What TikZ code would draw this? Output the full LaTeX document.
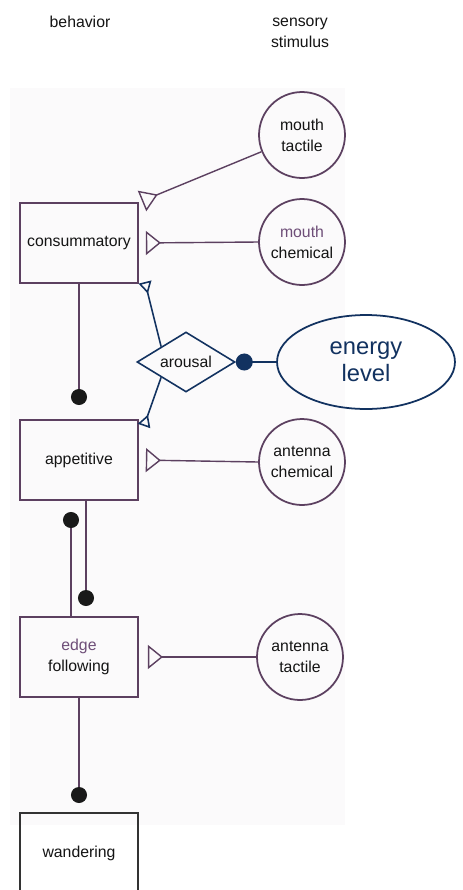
\documentclass[tikz,border=0pt]{standalone}
\usepackage{fontspec}
\setmainfont{Liberation Sans}
\usepackage{tikz}
\usetikzlibrary{arrows.meta, shapes.geometric}

\definecolor{inkline}{RGB}{92,64,96}
\definecolor{inktext}{RGB}{20,20,20}
\definecolor{inkpurple}{RGB}{110,78,120}
\definecolor{navy}{RGB}{18,50,96}
\definecolor{scan}{RGB}{251,250,251}

\newcommand{\lab}{\fontsize{9}{12}\selectfont}

\begin{document}
\begin{tikzpicture}[x=0.02cm, y=-0.02cm,
    behbox/.style={draw=inkline, line width=1pt, minimum width=2.36cm, minimum height=1.6cm,
      inner sep=0pt, align=center, text=inktext, font=\lab},
    stim/.style={circle, draw=inkline, line width=1pt, minimum size=1.72cm, inner sep=0pt,
      align=center, text=inktext, font=\lab},
    feed/.style={draw=inkline, line width=0.8pt, -{Triangle[open, reversed, length=0.3cm, width=0.48cm]}},
    inhib/.style={draw=inkline, line width=0.8pt, -{Circle[length=0.32cm, color=black!90]}},
    modl/.style={draw=navy, line width=0.9pt, -{Triangle[open, reversed, length=0.24cm, width=0.26cm]}}]

        % Frame of the page
        \clip (0,0) rectangle (463,890);
        \fill[white] (0,0) rectangle (463,890);
        \fill[scan] (10,88) rectangle (345,825);

        % Column headings
        \node[text=inktext, font=\lab] (hbeh) at (80,22) {behavior};
        \node[text=inktext, font=\lab, align=center] (hstim) at (300,33) {sensory\\stimulus};

        % Behaviors
        \node[behbox] (cons) at (79,243) {consummatory};
        \node[behbox] (app) at (79,460) {appetitive};
        \node[behbox] (edgef) at (79,657) {\textcolor{inkpurple}{edge}\\following};
        \node[behbox, draw=black!80] (wand) at (79,853) {wandering};

        % Sensory stimuli
        \node[stim] (mtact) at (302,135) {mouth\\tactile};
        \node[stim] (mchem) at (302,242) {\textcolor{inkpurple}{mouth}\\chemical};
        \node[stim] (achem) at (302,462) {antenna\\chemical};
        \node[stim] (atact) at (300,657) {antenna\\tactile};

        % Arousal and energy level
        \node[diamond, draw=navy, line width=0.9pt, aspect=1.6, minimum width=1.96cm,
          minimum height=1.2cm, inner sep=0pt, text=inktext, font=\lab] (arousal) at (186,362) {arousal};
        \node[ellipse, draw=navy, line width=1pt, minimum width=3.56cm, minimum height=1.88cm,
          inner sep=0pt, align=center, text=navy, font=\fontsize{13.5}{15.5}\selectfont] (energy) at (366,362) {energy\\level};

        % Free ends
        \coordinate (tc) at (142,201);
        \coordinate (ac) at (145,282);
        \coordinate (aa) at (144,426);
        \coordinate (d1) at (79,405);
        \coordinate (d2) at (71,512);
        \coordinate (d3) at (86,606);
        \coordinate (d4) at (79,803);

        % Stimulus inputs
        \draw[feed, -{Triangle[open, reversed, length=0.34cm, width=0.44cm]}] (mtact) -- (tc);
        \draw[feed, shorten >=0.14cm] (mchem.west) -- (cons.east);
        \draw[feed, shorten >=0.14cm] (achem.west) -- (app.east);
        \draw[feed, shorten >=0.18cm] (atact.west) -- (edgef.east);

        % Suppression between behaviors
        \draw[inhib] (cons.south) -- (d1);
        \draw[inhib] (edgef.north -| d2) -- (d2);
        \draw[inhib] (app.south -| d3) -- (d3);
        \draw[inhib] (edgef.south) -- (d4);

        % Arousal modulation
        \draw[modl] (arousal.north west) -- (ac);
        \draw[modl] (arousal.south west) -- (aa);
        \draw[navy, line width=0.9pt, -{Circle[length=0.34cm]}] (energy.west) -- (arousal.east);
    \end{tikzpicture}
\end{document}
